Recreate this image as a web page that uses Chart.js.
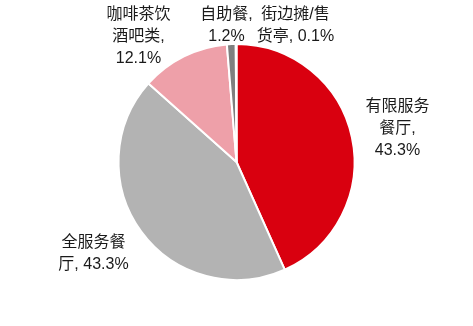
<!DOCTYPE html>
<html>
<head>
<meta charset="utf-8">
<script src="https://cdn.jsdelivr.net/npm/chart.js@4"></script>
<style>
  html, body { margin: 0; padding: 0; background: #fff; }
  #wrap { width: 473px; height: 326px; }
</style>
</head>
<body>
<div id="wrap"><canvas id="pieChart" width="473" height="326"></canvas></div>
<script>
// data
const categories = ['有限服务餐厅', '全服务餐厅', '咖啡茶饮酒吧类', '自助餐', '街边摊/售货亭'];
const shares = [43.3, 43.3, 12.1, 1.2, 0.1];
const sliceColors = ['#d9000f', '#b3b3b3', '#eea0a9', '#7f7f7f', '#ffffff'];

// label lines for each slice (text only)
const labelLines = [
    ['有限服务', '餐厅,', '43.3%'],
    ['全服务餐', '厅, 43.3%'],
    ['咖啡茶饮', '酒吧类,', '12.1%'],
    ['自助餐,', '1.2%'],
    ['街边摊/售', '货亭, 0.1%']
];

// where each label block sits, relative to pie center (dx, dy of first line)
const labelOffsets = [
    [161, -55],
    [-143, 81],
    [-98, -147],
    [-10, -147],
    [59, -147]
];

const labelPlugin = {
    id: 'sliceLabels',
    afterDatasetsDraw(chart) {
        const ctx = chart.ctx;
        const arc = chart.getDatasetMeta(0).data[0];
        const cx = arc.x, cy = arc.y;
        ctx.save();
        ctx.fillStyle = '#1a1a1a';
        ctx.font = '16px "Liberation Sans", Arial, "Noto Sans CJK SC", sans-serif';
        ctx.textAlign = 'center';
        ctx.textBaseline = 'middle';
        for (let i = 0; i < labelLines.length; i++) {
            const lines = labelLines[i];
            for (let j = 0; j < lines.length; j++) {
                ctx.fillText(lines[j], cx + labelOffsets[i][0], cy + labelOffsets[i][1] + j * 22);
            }
        }
        ctx.restore();
    }
};

new Chart(document.getElementById('pieChart').getContext('2d'), {
    type: 'pie',
    data: {
        labels: categories,
        datasets: [{
            data: shares,
            backgroundColor: sliceColors,
            borderColor: '#ffffff',
            borderWidth: 2
        }]
    },
    options: {
        responsive: false,
        animation: false,
        layout: { padding: { top: 43, bottom: 45, left: 0, right: 0 } },
        plugins: {
            legend: { display: false },
            tooltip: { enabled: false }
        }
    },
    plugins: [labelPlugin]
});
</script>
</body>
</html>
